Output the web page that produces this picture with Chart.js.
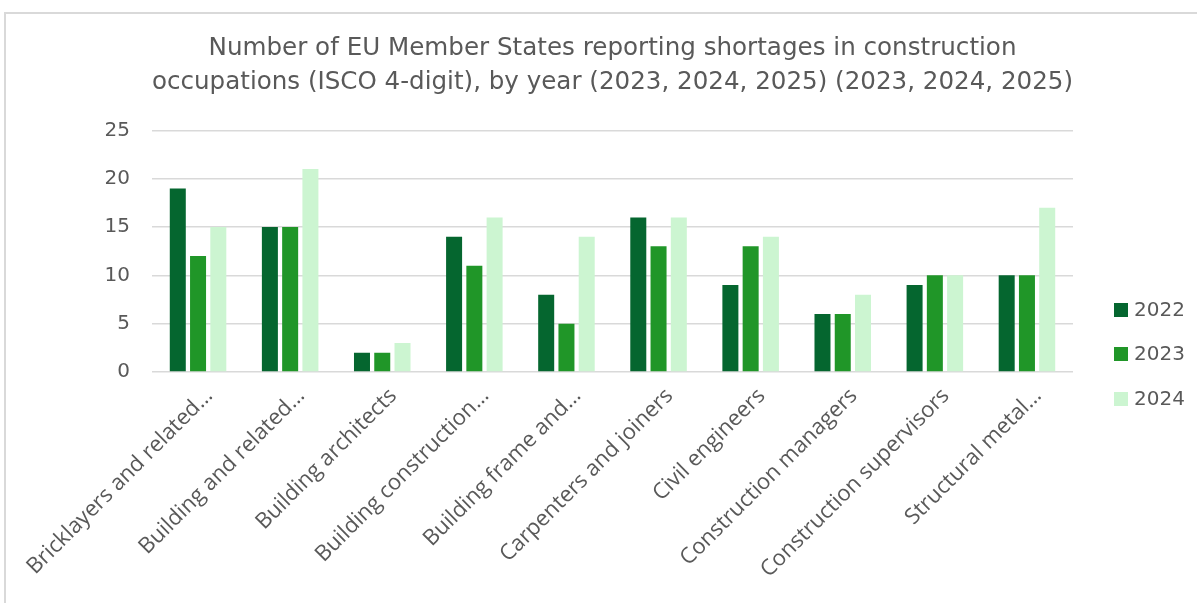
<!DOCTYPE html>
<html>
<head>
<meta charset="utf-8">
<script src="https://cdn.jsdelivr.net/npm/chart.js@4/dist/chart.umd.min.js"></script>
<style>
  html, body { margin:0; padding:0; background:#fff; }
  #frame { position:absolute; left:4px; top:12px; width:1300px; height:700px; border-left:2px solid #d9d9d9; border-top:2px solid #d9d9d9; }
  #wrap { position:absolute; left:0; top:0; width:1197px; height:603px; }
</style>
</head>
<body>
<div id="frame"></div>
<div id="wrap"><canvas id="c" width="1197" height="603"></canvas></div>
<script>
const categories = [
  "Bricklayers and related\u2026",
  "Building and related\u2026",
  "Building architects",
  "Building construction\u2026",
  "Building frame and\u2026",
  "Carpenters and joiners",
  "Civil engineers",
  "Construction managers",
  "Construction supervisors",
  "Structural metal\u2026"
];
const seriesLabels = ["2022", "2023", "2024"];
const values2022 = [19, 15, 2, 14, 8, 16, 9, 6, 9, 10];
const values2023 = [12, 15, 2, 11, 5, 13, 13, 6, 10, 10];
const values2024 = [15, 21, 3, 16, 14, 16, 14, 8, 10, 17];
const yTicks = [0, 5, 10, 15, 20, 25];
const titleLines = [
  "Number of EU Member States reporting shortages in construction",
  "occupations (ISCO 4-digit), by year (2023, 2024, 2025) (2023, 2024, 2025)"
];
const colors = ["#05662F", "#209628", "#CCF5D1"];
const FONT = "'DejaVu Sans', sans-serif";
const LABEL_FONT = "'Open Sans', sans-serif";
const TEXT = "#595959";

const legendPlugin = {
  id: 'sideLegend',
  afterDraw(chart) {
    const ctx = chart.ctx;
    const ys = [310, 354, 399];
    ctx.save();
    chart.data.datasets.forEach((ds, i) => {
      ctx.fillStyle = ds.backgroundColor;
      ctx.fillRect(1114, ys[i] - 7, 14, 14);
      ctx.fillStyle = TEXT;
      ctx.font = "20px " + FONT;
      ctx.textBaseline = "middle";
      ctx.textAlign = "left";
      ctx.fillText(ds.label, 1134, ys[i] + 1);
    });
    ctx.restore();
  }
};

new Chart(document.getElementById('c'), {
  type: 'bar',
  data: {
    labels: categories,
    datasets: [
      { label: seriesLabels[0], data: values2022, backgroundColor: colors[0] },
      { label: seriesLabels[1], data: values2023, backgroundColor: colors[1] },
      { label: seriesLabels[2], data: values2024, backgroundColor: colors[2] }
    ]
  },
  options: {
    responsive: false,
    animation: false,
    layout: { padding: { top: 14, right: 124, left: 0, bottom: 0 } },
    datasets: { bar: { categoryPercentage: 0.66, barPercentage: 0.79 } },
    plugins: {
      legend: { display: false },
      tooltip: { enabled: false },
      title: {
        display: true,
        fullSize: false,
        text: titleLines,
        color: TEXT,
        font: { family: FONT, size: 24.6, weight: 'normal', lineHeight: 1.37 },
        padding: { top: 18, bottom: 31 }
      }
    },
    scales: {
      x: {
        grid: { display: false },
        border: { display: false },
        ticks: {
          color: TEXT,
          font: { family: LABEL_FONT, size: 22 },
          maxRotation: 45, minRotation: 45,
          autoSkip: false,
          labelOffset: 11
        },
        afterFit(scale) { scale.height = 231; }
      },
      y: {
        min: 0, max: 25,
        afterBuildTicks(scale) { scale.ticks = yTicks.map(v => ({ value: v })); },
        grid: { color: '#d9d9d9', lineWidth: 1.5, drawTicks: false },
        border: { display: false },
        ticks: {
          color: TEXT,
          font: { family: FONT, size: 20 },
          padding: 22
        },
        afterFit(scale) { scale.width = 152; }
      }
    }
  },
  plugins: [legendPlugin]
});
</script>
</body>
</html>
